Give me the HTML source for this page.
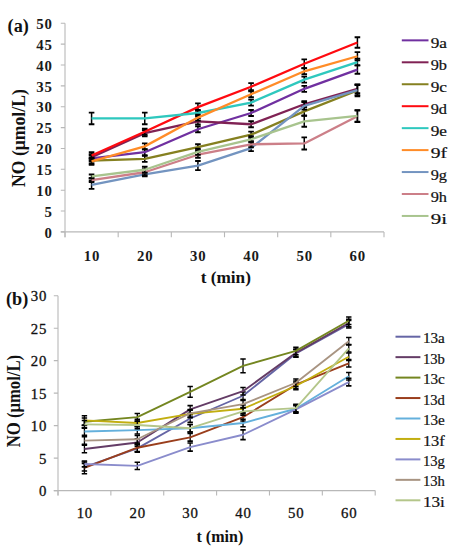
<!DOCTYPE html>
<html><head><meta charset="utf-8"><title>NO release</title>
<style>html,body{margin:0;padding:0;background:#fff;}body{width:456px;height:550px;overflow:hidden;}svg{display:block;font-family:"Liberation Serif",serif;}</style>
</head><body>
<svg width="456" height="550" viewBox="0 0 456 550">
<rect width="456" height="550" fill="#fff"/>
<g stroke="#b8b8b8" stroke-width="1.1" fill="none"><path d="M65 23.3V237.3"/><path d="M60.8 231.9H384"/><path d="M60.8 231.9H65M60.8 211.04H65M60.8 190.18H65M60.8 169.32H65M60.8 148.46H65M60.8 127.6H65M60.8 106.74H65M60.8 85.88H65M60.8 65.02H65M60.8 44.16H65M60.8 23.3H65M65 231.9V237.3M118.17 231.9V237.3M171.33 231.9V237.3M224.5 231.9V237.3M277.67 231.9V237.3M330.83 231.9V237.3M384 231.9V237.3"/></g>
<g font-size="14.8" font-weight="bold" fill="#1a1a1a" text-anchor="end"><text x="51.8" y="237.6" textLength="7.8" lengthAdjust="spacing">0</text><text x="51.8" y="216.74" textLength="7.8" lengthAdjust="spacing">5</text><text x="51.8" y="195.88" textLength="15.6" lengthAdjust="spacing">10</text><text x="51.8" y="175.02" textLength="15.6" lengthAdjust="spacing">15</text><text x="51.8" y="154.16" textLength="15.6" lengthAdjust="spacing">20</text><text x="51.8" y="133.3" textLength="15.6" lengthAdjust="spacing">25</text><text x="51.8" y="112.44" textLength="15.6" lengthAdjust="spacing">30</text><text x="51.8" y="91.58" textLength="15.6" lengthAdjust="spacing">35</text><text x="51.8" y="70.72" textLength="15.6" lengthAdjust="spacing">40</text><text x="51.8" y="49.86" textLength="15.6" lengthAdjust="spacing">45</text><text x="51.8" y="29" textLength="15.6" lengthAdjust="spacing">50</text></g>
<g font-size="14.8" font-weight="bold" fill="#1a1a1a" text-anchor="middle"><text x="91.58" y="260.7" textLength="15.6" lengthAdjust="spacing">10</text><text x="144.75" y="260.7" textLength="15.6" lengthAdjust="spacing">20</text><text x="197.92" y="260.7" textLength="15.6" lengthAdjust="spacing">30</text><text x="251.08" y="260.7" textLength="15.6" lengthAdjust="spacing">40</text><text x="304.25" y="260.7" textLength="15.6" lengthAdjust="spacing">50</text><text x="357.42" y="260.7" textLength="15.6" lengthAdjust="spacing">60</text></g>
<text transform="translate(24.6 187) rotate(-90)" font-weight="bold" font-size="18" fill="#111" textLength="97.8" lengthAdjust="spacingAndGlyphs">NO (&#956;mol/L)</text>
<text x="225.8" y="283" font-weight="bold" font-size="16" fill="#111" text-anchor="middle" textLength="50.3" lengthAdjust="spacingAndGlyphs">t (min)</text>
<text x="7.6" y="31.5" font-weight="bold" font-size="18.2" fill="#111">(a)</text>
<path d="M91.58 155.47V161.48M144.75 149.21V155.22M197.92 126.26V132.27M251.08 109.99V116M304.25 85.8V91.8M357.42 65.44V73.78" stroke="#000" stroke-width="1.5" fill="none"/>
<path d="M88.78 155.47H94.38M88.78 161.48H94.38M141.95 149.21H147.55M141.95 155.22H147.55M195.12 126.26H200.72M195.12 132.27H200.72M248.28 109.99H253.88M248.28 116H253.88M301.45 85.8H307.05M301.45 91.8H307.05M354.62 65.44H360.22M354.62 73.78H360.22" stroke="#000" stroke-width="1.85" fill="none"/>
<polyline points="91.58,158.47 144.75,152.21 197.92,129.27 251.08,113 304.25,88.8 357.42,69.61" stroke="#7030a0" stroke-width="2.3" fill="none" stroke-linejoin="round"/>
<path d="M91.58 154.22V160.23M144.75 130.23V136.24M197.92 118.34V124.35M251.08 121.26V127.27M304.25 101.23V107.24M357.42 84.42V93.18" stroke="#000" stroke-width="1.5" fill="none"/>
<path d="M88.78 154.22H94.38M88.78 160.23H94.38M141.95 130.23H147.55M141.95 136.24H147.55M195.12 118.34H200.72M195.12 124.35H200.72M248.28 121.26H253.88M248.28 127.27H253.88M301.45 101.23H307.05M301.45 107.24H307.05M354.62 84.42H360.22M354.62 93.18H360.22" stroke="#000" stroke-width="1.85" fill="none"/>
<polyline points="91.58,157.22 144.75,133.23 197.92,121.34 251.08,124.26 304.25,104.24 357.42,88.8" stroke="#802254" stroke-width="2.3" fill="none" stroke-linejoin="round"/>
<path d="M91.58 157.55V163.56M144.75 155.89V161.89M197.92 144.2V150.21M251.08 131.69V137.7M304.25 107.16V115.5M357.42 84.63V96.31" stroke="#000" stroke-width="1.5" fill="none"/>
<path d="M88.78 157.55H94.38M88.78 163.56H94.38M141.95 155.89H147.55M141.95 161.89H147.55M195.12 144.2H200.72M195.12 150.21H200.72M248.28 131.69H253.88M248.28 137.7H253.88M301.45 107.16H307.05M301.45 115.5H307.05M354.62 84.63H360.22M354.62 96.31H360.22" stroke="#000" stroke-width="1.85" fill="none"/>
<polyline points="91.58,160.56 144.75,158.89 197.92,147.21 251.08,134.69 304.25,111.33 357.42,90.47" stroke="#858020" stroke-width="2.3" fill="none" stroke-linejoin="round"/>
<path d="M91.58 152.21V158.89M144.75 128.77V134.78M197.92 103.4V110.91M251.08 83.17V90.26M304.25 59.39V68.15M357.42 37.28V47.71" stroke="#000" stroke-width="1.5" fill="none"/>
<path d="M88.78 152.21H94.38M88.78 158.89H94.38M141.95 128.77H147.55M141.95 134.78H147.55M195.12 103.4H200.72M195.12 110.91H200.72M248.28 83.17H253.88M248.28 90.26H253.88M301.45 59.39H307.05M301.45 68.15H307.05M354.62 37.28H360.22M354.62 47.71H360.22" stroke="#000" stroke-width="1.85" fill="none"/>
<polyline points="91.58,155.55 144.75,131.77 197.92,107.16 251.08,86.71 304.25,63.77 357.42,42.49" stroke="#ff0a10" stroke-width="2.3" fill="none" stroke-linejoin="round"/>
<path d="M91.58 112.58V124.26M144.75 112.58V124.26M197.92 109.99V116M251.08 99.56V105.57M304.25 76.62V82.63M357.42 58.76V65.44" stroke="#000" stroke-width="1.5" fill="none"/>
<path d="M88.78 112.58H94.38M88.78 124.26H94.38M141.95 112.58H147.55M141.95 124.26H147.55M195.12 109.99H200.72M195.12 116H200.72M248.28 99.56H253.88M248.28 105.57H253.88M301.45 76.62H307.05M301.45 82.63H307.05M354.62 58.76H360.22M354.62 65.44H360.22" stroke="#000" stroke-width="1.85" fill="none"/>
<polyline points="91.58,118.42 144.75,118.42 197.92,113 251.08,102.57 304.25,79.62 357.42,62.1" stroke="#2ec8be" stroke-width="2.3" fill="none" stroke-linejoin="round"/>
<path d="M91.58 158.06V164.73M144.75 143.37V149.38M197.92 114.58V120.59M251.08 91.22V97.23M304.25 68.27V74.28M357.42 52.09V60.43" stroke="#000" stroke-width="1.5" fill="none"/>
<path d="M88.78 158.06H94.38M88.78 164.73H94.38M141.95 143.37H147.55M141.95 149.38H147.55M195.12 114.58H200.72M195.12 120.59H200.72M248.28 91.22H253.88M248.28 97.23H253.88M301.45 68.27H307.05M301.45 74.28H307.05M354.62 52.09H360.22M354.62 60.43H360.22" stroke="#000" stroke-width="1.85" fill="none"/>
<polyline points="91.58,161.39 144.75,146.37 197.92,117.59 251.08,94.22 304.25,71.28 357.42,56.26" stroke="#ff8c28" stroke-width="2.3" fill="none" stroke-linejoin="round"/>
<path d="M91.58 180.58V188.93M144.75 172.24V176.41M197.92 160.98V170.15M251.08 145.04V151.05M304.25 102.15V109.66M357.42 85.05V95.06" stroke="#000" stroke-width="1.5" fill="none"/>
<path d="M88.78 180.58H94.38M88.78 188.93H94.38M141.95 172.24H147.55M141.95 176.41H147.55M195.12 160.98H200.72M195.12 170.15H200.72M248.28 145.04H253.88M248.28 151.05H253.88M301.45 102.15H307.05M301.45 109.66H307.05M354.62 85.05H360.22M354.62 95.06H360.22" stroke="#000" stroke-width="1.85" fill="none"/>
<polyline points="91.58,184.76 144.75,174.33 197.92,165.57 251.08,148.04 304.25,105.91 357.42,90.05" stroke="#7394c0" stroke-width="2.3" fill="none" stroke-linejoin="round"/>
<path d="M91.58 178.29V182.04M144.75 169.24V175.24M197.92 151.71V157.72M251.08 141.28V147.29M304.25 137.4V149.5M357.42 110.49V122.18" stroke="#000" stroke-width="1.5" fill="none"/>
<path d="M88.78 178.29H94.38M88.78 182.04H94.38M141.95 169.24H147.55M141.95 175.24H147.55M195.12 151.71H200.72M195.12 157.72H200.72M248.28 141.28H253.88M248.28 147.29H253.88M301.45 137.4H307.05M301.45 149.5H307.05M354.62 110.49H360.22M354.62 122.18H360.22" stroke="#000" stroke-width="1.85" fill="none"/>
<polyline points="91.58,180.17 144.75,172.24 197.92,154.72 251.08,144.29 304.25,143.45 357.42,116.34" stroke="#cc7f88" stroke-width="2.3" fill="none" stroke-linejoin="round"/>
<path d="M91.58 174.53V178.29M144.75 166.73V172.74M197.92 148.79V154.8M251.08 136.28V142.29M304.25 115.92V126.77M357.42 110.08V121.76" stroke="#000" stroke-width="1.5" fill="none"/>
<path d="M88.78 174.53H94.38M88.78 178.29H94.38M141.95 166.73H147.55M141.95 172.74H147.55M195.12 148.79H200.72M195.12 154.8H200.72M248.28 136.28H253.88M248.28 142.29H253.88M301.45 115.92H307.05M301.45 126.77H307.05M354.62 110.08H360.22M354.62 121.76H360.22" stroke="#000" stroke-width="1.85" fill="none"/>
<polyline points="91.58,176.41 144.75,169.74 197.92,151.8 251.08,139.28 304.25,121.34 357.42,115.92" stroke="#a8c48e" stroke-width="2.3" fill="none" stroke-linejoin="round"/>
<path d="M401.8 40.35H428.5" stroke="#7030a0" stroke-width="2.0"/><text x="430.7" y="48.25" font-size="13.6" fill="#111" stroke="#111" stroke-width="0.2" textLength="16.3" lengthAdjust="spacingAndGlyphs">9a</text><path d="M401.8 62.3H428.5" stroke="#802254" stroke-width="2.0"/><text x="430.7" y="70.2" font-size="13.6" fill="#111" stroke="#111" stroke-width="0.2" textLength="16.3" lengthAdjust="spacingAndGlyphs">9b</text><path d="M401.8 84.25H428.5" stroke="#858020" stroke-width="2.0"/><text x="430.7" y="92.15" font-size="13.6" fill="#111" stroke="#111" stroke-width="0.2" textLength="16.3" lengthAdjust="spacingAndGlyphs">9c</text><path d="M401.8 106.2H428.5" stroke="#ff0a10" stroke-width="2.0"/><text x="430.7" y="114.1" font-size="13.6" fill="#111" stroke="#111" stroke-width="0.2" textLength="16.3" lengthAdjust="spacingAndGlyphs">9d</text><path d="M401.8 128.15H428.5" stroke="#2ec8be" stroke-width="2.0"/><text x="430.7" y="136.05" font-size="13.6" fill="#111" stroke="#111" stroke-width="0.2" textLength="16.3" lengthAdjust="spacingAndGlyphs">9e</text><path d="M401.8 150.1H428.5" stroke="#ff8c28" stroke-width="2.0"/><text x="430.7" y="158" font-size="13.6" fill="#111" stroke="#111" stroke-width="0.2" textLength="16.3" lengthAdjust="spacingAndGlyphs">9f</text><path d="M401.8 172.05H428.5" stroke="#7394c0" stroke-width="2.0"/><text x="430.7" y="179.95" font-size="13.6" fill="#111" stroke="#111" stroke-width="0.2" textLength="16.3" lengthAdjust="spacingAndGlyphs">9g</text><path d="M401.8 194H428.5" stroke="#cc7f88" stroke-width="2.0"/><text x="430.7" y="201.9" font-size="13.6" fill="#111" stroke="#111" stroke-width="0.2" textLength="16.3" lengthAdjust="spacingAndGlyphs">9h</text><path d="M401.8 215.95H428.5" stroke="#a8c48e" stroke-width="2.0"/><text x="430.7" y="223.85" font-size="13.6" fill="#111" stroke="#111" stroke-width="0.2" textLength="16.3" lengthAdjust="spacingAndGlyphs">9i</text>
<g stroke="#b8b8b8" stroke-width="1.1" fill="none"><path d="M58 295.7V495.6"/><path d="M53.8 490.6H375.2"/><path d="M53.8 490.6H58M53.8 458.12H58M53.8 425.63H58M53.8 393.15H58M53.8 360.67H58M53.8 328.18H58M53.8 295.7H58M58 490.6V495.6M110.87 490.6V495.6M163.73 490.6V495.6M216.6 490.6V495.6M269.47 490.6V495.6M322.33 490.6V495.6M375.2 490.6V495.6"/></g>
<g font-size="14.8" fill="#111" stroke="#111" stroke-width="0.3" text-anchor="end"><text x="46.4" y="496.3" textLength="7.8" lengthAdjust="spacing">0</text><text x="46.4" y="463.82" textLength="7.8" lengthAdjust="spacing">5</text><text x="46.4" y="431.33" textLength="15.6" lengthAdjust="spacing">10</text><text x="46.4" y="398.85" textLength="15.6" lengthAdjust="spacing">15</text><text x="46.4" y="366.37" textLength="15.6" lengthAdjust="spacing">20</text><text x="46.4" y="333.88" textLength="15.6" lengthAdjust="spacing">25</text><text x="46.4" y="301.4" textLength="15.6" lengthAdjust="spacing">30</text></g>
<g font-size="14.8" fill="#111" stroke="#111" stroke-width="0.3" text-anchor="middle"><text x="84.43" y="518" textLength="15.6" lengthAdjust="spacing">10</text><text x="137.3" y="518" textLength="15.6" lengthAdjust="spacing">20</text><text x="190.17" y="518" textLength="15.6" lengthAdjust="spacing">30</text><text x="243.03" y="518" textLength="15.6" lengthAdjust="spacing">40</text><text x="295.9" y="518" textLength="15.6" lengthAdjust="spacing">50</text><text x="348.77" y="518" textLength="15.6" lengthAdjust="spacing">60</text></g>
<text transform="translate(20.4 447.2) rotate(-90)" font-weight="bold" font-size="18" fill="#111" textLength="92.3" lengthAdjust="spacingAndGlyphs">NO (&#956;mol/L)</text>
<text x="219.9" y="542" font-weight="bold" font-size="16" fill="#111" text-anchor="middle" textLength="46.8" lengthAdjust="spacingAndGlyphs">t (min)</text>
<text x="6" y="304.8" font-weight="bold" font-size="18.2" fill="#111">(b)</text>
<path d="M84.43 463.44V470.98M137.3 444.6V452.14M190.17 414.72V422.26M243.03 391.98V399.52M295.9 349.75V357.29M348.77 320.52V328.05" stroke="#000" stroke-width="1.3" fill="none"/>
<path d="M81.73 463.44H87.13M81.73 470.98H87.13M134.6 444.6H140M134.6 452.14H140M187.47 414.72H192.87M187.47 422.26H192.87M240.33 391.98H245.73M240.33 399.52H245.73M293.2 349.75H298.6M293.2 357.29H298.6M346.07 320.52H351.47M346.07 328.05H351.47" stroke="#000" stroke-width="1.55" fill="none"/>
<polyline points="84.43,467.21 137.3,448.37 190.17,418.49 243.03,395.75 295.9,353.52 348.77,324.29" stroke="#6565a5" stroke-width="1.85" fill="none" stroke-linejoin="round"/>
<path d="M84.43 445.25V452.79M137.3 438.76V446.29M190.17 405.62V413.16M243.03 387.43V394.97M295.9 349.1V356.64M348.77 319.22V326.75" stroke="#000" stroke-width="1.3" fill="none"/>
<path d="M81.73 445.25H87.13M81.73 452.79H87.13M134.6 438.76H140M134.6 446.29H140M187.47 405.62H192.87M187.47 413.16H192.87M240.33 387.43H245.73M240.33 394.97H245.73M293.2 349.1H298.6M293.2 356.64H298.6M346.07 319.22H351.47M346.07 326.75H351.47" stroke="#000" stroke-width="1.55" fill="none"/>
<polyline points="84.43,449.02 137.3,442.52 190.17,409.39 243.03,391.2 295.9,352.87 348.77,322.99" stroke="#643c66" stroke-width="1.85" fill="none" stroke-linejoin="round"/>
<path d="M84.43 417.97V425.5M137.3 413.42V420.96M190.17 386.52V397.18M243.03 359.04V372.69M295.9 347.15V354.69M348.77 316.94V324.48" stroke="#000" stroke-width="1.3" fill="none"/>
<path d="M81.73 417.97H87.13M81.73 425.5H87.13M134.6 413.42H140M134.6 420.96H140M187.47 386.52H192.87M187.47 397.18H192.87M240.33 359.04H245.73M240.33 372.69H245.73M293.2 347.15H298.6M293.2 354.69H298.6M346.07 316.94H351.47M346.07 324.48H351.47" stroke="#000" stroke-width="1.55" fill="none"/>
<polyline points="84.43,421.74 137.3,417.19 190.17,391.85 243.03,365.86 295.9,350.92 348.77,320.71" stroke="#748620" stroke-width="1.85" fill="none" stroke-linejoin="round"/>
<path d="M84.43 462.01V473.71M137.3 443.95V451.49M190.17 433.56V441.1M243.03 413.42V420.96M295.9 380.94V388.47M348.77 359.5V367.03" stroke="#000" stroke-width="1.3" fill="none"/>
<path d="M81.73 462.01H87.13M81.73 473.71H87.13M134.6 443.95H140M134.6 451.49H140M187.47 433.56H192.87M187.47 441.1H192.87M240.33 413.42H245.73M240.33 420.96H245.73M293.2 380.94H298.6M293.2 388.47H298.6M346.07 359.5H351.47M346.07 367.03H351.47" stroke="#000" stroke-width="1.55" fill="none"/>
<polyline points="84.43,467.86 137.3,447.72 190.17,437.33 243.03,417.19 295.9,384.7 348.77,363.27" stroke="#9a3e1c" stroke-width="1.85" fill="none" stroke-linejoin="round"/>
<path d="M84.43 427.71V435.25M137.3 426.41V433.95M190.17 424.46V432M243.03 419.27V426.8M295.9 404.97V412.51M348.77 372.49V380.03" stroke="#000" stroke-width="1.3" fill="none"/>
<path d="M81.73 427.71H87.13M81.73 435.25H87.13M134.6 426.41H140M134.6 433.95H140M187.47 424.46H192.87M187.47 432H192.87M240.33 419.27H245.73M240.33 426.8H245.73M293.2 404.97H298.6M293.2 412.51H298.6M346.07 372.49H351.47M346.07 380.03H351.47" stroke="#000" stroke-width="1.55" fill="none"/>
<polyline points="84.43,431.48 137.3,430.18 190.17,428.23 243.03,423.03 295.9,408.74 348.77,376.26" stroke="#64b0dc" stroke-width="1.85" fill="none" stroke-linejoin="round"/>
<path d="M84.43 415.76V425.11M137.3 419.27V426.8M190.17 410.17V417.71M243.03 404.97V412.51M295.9 382.24V389.77M348.77 353V360.54" stroke="#000" stroke-width="1.3" fill="none"/>
<path d="M81.73 415.76H87.13M81.73 425.11H87.13M134.6 419.27H140M134.6 426.8H140M187.47 410.17H192.87M187.47 417.71H192.87M240.33 404.97H245.73M240.33 412.51H245.73M293.2 382.24H298.6M293.2 389.77H298.6M346.07 353H351.47M346.07 360.54H351.47" stroke="#000" stroke-width="1.55" fill="none"/>
<polyline points="84.43,420.44 137.3,423.03 190.17,413.94 243.03,408.74 295.9,386 348.77,356.77" stroke="#c2ae10" stroke-width="1.85" fill="none" stroke-linejoin="round"/>
<path d="M84.43 461.04V466.89M137.3 462.34V469.49M190.17 443.04V451.1M243.03 429.86V439.6M295.9 405.62V413.16M348.77 378.34V385.87" stroke="#000" stroke-width="1.3" fill="none"/>
<path d="M81.73 461.04H87.13M81.73 466.89H87.13M134.6 462.34H140M134.6 469.49H140M187.47 443.04H192.87M187.47 451.1H192.87M240.33 429.86H245.73M240.33 439.6H245.73M293.2 405.62H298.6M293.2 413.16H298.6M346.07 378.34H351.47M346.07 385.87H351.47" stroke="#000" stroke-width="1.55" fill="none"/>
<polyline points="84.43,463.96 137.3,465.91 190.17,447.07 243.03,434.73 295.9,409.39 348.77,382.11" stroke="#8a8ccc" stroke-width="1.85" fill="none" stroke-linejoin="round"/>
<path d="M84.43 436.81V444.34M137.3 435.51V443.04M190.17 409.52V417.06M243.03 400.43V407.96M295.9 378.99V386.52M348.77 337.41V344.94" stroke="#000" stroke-width="1.3" fill="none"/>
<path d="M81.73 436.81H87.13M81.73 444.34H87.13M134.6 435.51H140M134.6 443.04H140M187.47 409.52H192.87M187.47 417.06H192.87M240.33 400.43H245.73M240.33 407.96H245.73M293.2 378.99H298.6M293.2 386.52H298.6M346.07 337.41H351.47M346.07 344.94H351.47" stroke="#000" stroke-width="1.55" fill="none"/>
<polyline points="84.43,440.58 137.3,439.28 190.17,413.29 243.03,404.19 295.9,382.76 348.77,341.18" stroke="#a89482" stroke-width="1.85" fill="none" stroke-linejoin="round"/>
<path d="M84.43 420.57V428.1M137.3 421.22V428.75M190.17 424.46V432M243.03 407.57V415.11M295.9 404.32V411.86M348.77 344.55V352.09" stroke="#000" stroke-width="1.3" fill="none"/>
<path d="M81.73 420.57H87.13M81.73 428.1H87.13M134.6 421.22H140M134.6 428.75H140M187.47 424.46H192.87M187.47 432H192.87M240.33 407.57H245.73M240.33 415.11H245.73M293.2 404.32H298.6M293.2 411.86H298.6M346.07 344.55H351.47M346.07 352.09H351.47" stroke="#000" stroke-width="1.55" fill="none"/>
<polyline points="84.43,424.33 137.3,424.98 190.17,428.23 243.03,411.34 295.9,408.09 348.77,348.32" stroke="#b4c68a" stroke-width="1.85" fill="none" stroke-linejoin="round"/>
<path d="M395.5 336.7H420.4" stroke="#6565a5" stroke-width="2.0"/><text x="422.9" y="343.3" font-size="13.6" fill="#111" stroke="#111" stroke-width="0.2" textLength="21.95" lengthAdjust="spacingAndGlyphs">13a</text><path d="M395.5 357.15H420.4" stroke="#643c66" stroke-width="2.0"/><text x="422.9" y="363.75" font-size="13.6" fill="#111" stroke="#111" stroke-width="0.2" textLength="21.95" lengthAdjust="spacingAndGlyphs">13b</text><path d="M395.5 377.6H420.4" stroke="#748620" stroke-width="2.0"/><text x="422.9" y="384.2" font-size="13.6" fill="#111" stroke="#111" stroke-width="0.2" textLength="21.95" lengthAdjust="spacingAndGlyphs">13c</text><path d="M395.5 398.05H420.4" stroke="#9a3e1c" stroke-width="2.0"/><text x="422.9" y="404.65" font-size="13.6" fill="#111" stroke="#111" stroke-width="0.2" textLength="21.95" lengthAdjust="spacingAndGlyphs">13d</text><path d="M395.5 418.5H420.4" stroke="#64b0dc" stroke-width="2.0"/><text x="422.9" y="425.1" font-size="13.6" fill="#111" stroke="#111" stroke-width="0.2" textLength="21.95" lengthAdjust="spacingAndGlyphs">13e</text><path d="M395.5 438.95H420.4" stroke="#c2ae10" stroke-width="2.0"/><text x="422.9" y="445.55" font-size="13.6" fill="#111" stroke="#111" stroke-width="0.2" textLength="21.95" lengthAdjust="spacingAndGlyphs">13f</text><path d="M395.5 459.4H420.4" stroke="#8a8ccc" stroke-width="2.0"/><text x="422.9" y="466" font-size="13.6" fill="#111" stroke="#111" stroke-width="0.2" textLength="21.95" lengthAdjust="spacingAndGlyphs">13g</text><path d="M395.5 479.85H420.4" stroke="#a89482" stroke-width="2.0"/><text x="422.9" y="486.45" font-size="13.6" fill="#111" stroke="#111" stroke-width="0.2" textLength="21.95" lengthAdjust="spacingAndGlyphs">13h</text><path d="M395.5 500.3H420.4" stroke="#b4c68a" stroke-width="2.0"/><text x="422.9" y="506.9" font-size="13.6" fill="#111" stroke="#111" stroke-width="0.2" textLength="21.95" lengthAdjust="spacingAndGlyphs">13i</text>
</svg>
</body></html>
